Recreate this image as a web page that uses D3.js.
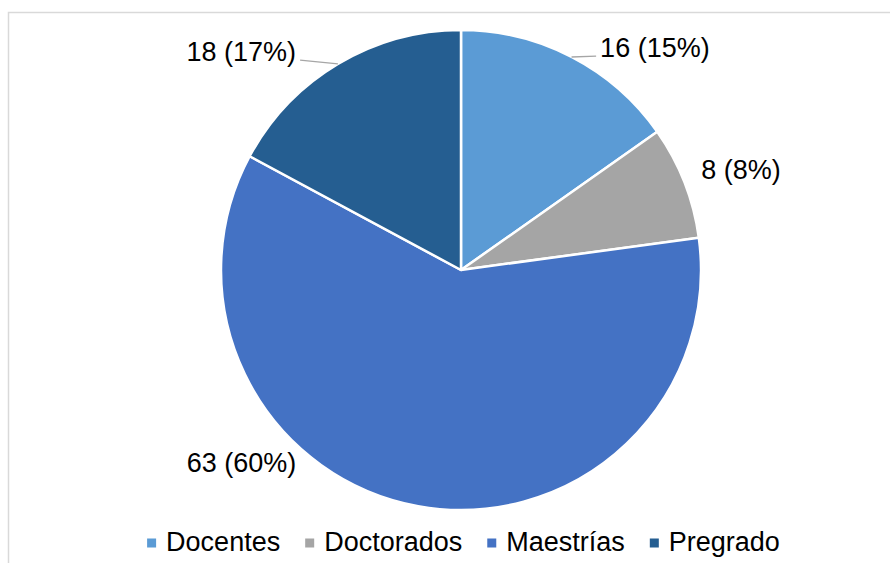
<!DOCTYPE html>
<html>
<head>
<meta charset="utf-8">
<script src="https://cdn.jsdelivr.net/npm/d3@7"></script>
<style>
  html, body { margin: 0; padding: 0; background: #ffffff; }
  svg { display: block; }
  text { font-family: "Liberation Sans", Arial, sans-serif; fill: #000000; }
</style>
</head>
<body>
<svg id="chart" width="890" height="563"></svg>
<script>
// ---- data ----
const categories = ["Docentes", "Doctorados", "Maestrías", "Pregrado"];
const values = [16, 8, 63, 18];
const colors = ["#5B9BD5", "#A5A5A5", "#4472C4", "#255E91"];
// label placement (angle in degrees clockwise from top, distance factor of radius)
const labelAngles = [41.1, 70.3, 228.7, 314.8];
const labelDist = [1.229, 1.239, 1.217, 1.29];
const labelLeader = [true, false, false, true];

const W = 890, H = 563;
const cx = 461, cy = 270, R = 240;
const fontSize = 27;

const svg = d3.select("#chart");

// outer frame
svg.append("rect")
  .attr("x", 8.5).attr("y", 12.5)
  .attr("width", W + 20).attr("height", H + 20)
  .attr("fill", "none")
  .attr("stroke", "#D9D9D9")
  .attr("stroke-width", 1.5);

const total = d3.sum(values);
const data = categories.map((c, i) => ({ cat: c, value: values[i], color: colors[i], i }));

const pie = d3.pie().value(d => d.value).sort(null).startAngle(0).endAngle(2 * Math.PI);
const arcs = pie(data);
const arc = d3.arc().innerRadius(0).outerRadius(R);

const g = svg.append("g").attr("transform", `translate(${cx},${cy})`);

g.selectAll("path.slice")
  .data(arcs)
  .enter().append("path")
  .attr("class", "slice")
  .attr("d", arc)
  .attr("fill", d => d.data.color)
  .attr("stroke", "#ffffff")
  .attr("stroke-width", 2.5)
  .attr("stroke-linejoin", "round");

// labels
const fmt = v => `${v} (${Math.round(v / total * 100)}%)`;
arcs.forEach((a, i) => {
  const ang = labelAngles[i] * Math.PI / 180;
  const r = R * labelDist[i];
  const lx = r * Math.sin(ang);
  const ly = -r * Math.cos(ang);
  const t = g.append("text")
    .attr("x", lx)
    .attr("y", ly + fontSize * 0.345)
    .attr("text-anchor", "middle")
    .attr("font-size", fontSize)
    .text(fmt(a.data.value));
  if (labelLeader[i]) {
    const w = t.node().getComputedTextLength();
    const mid = (a.startAngle + a.endAngle) / 2;
    const sx = R * Math.sin(mid), sy = -R * Math.cos(mid);
    const ex = lx > 0 ? lx - w / 2 - 4 : lx + w / 2 + 4;
    const ey = ly + fontSize * 0.31;
    g.insert("path", "text")
      .attr("d", d3.line()([[sx, sy], [ex, ey]]))
      .attr("fill", "none")
      .attr("stroke", "#A6A6A6")
      .attr("stroke-width", 1.3);
  }
});

// legend
const legendY = 551;
const sq = 9, sqGap = 10, itemGap = 25;
const lg = svg.append("g");
let xPos = 0;
data.forEach(d => {
  const it = lg.append("g");
  it.append("rect")
    .attr("x", 0).attr("y", legendY - 12.5)
    .attr("width", sq).attr("height", sq)
    .attr("fill", d.color);
  const t = it.append("text")
    .attr("x", sq + sqGap).attr("y", legendY)
    .attr("font-size", fontSize)
    .text(d.cat);
  const w = t.node().getComputedTextLength();
  it.attr("transform", `translate(${xPos},0)`);
  xPos += sq + sqGap + w + itemGap;
});
const totalW = xPos - itemGap;
lg.attr("transform", `translate(${463.5 - totalW / 2},0)`);
</script>
</body>
</html>
